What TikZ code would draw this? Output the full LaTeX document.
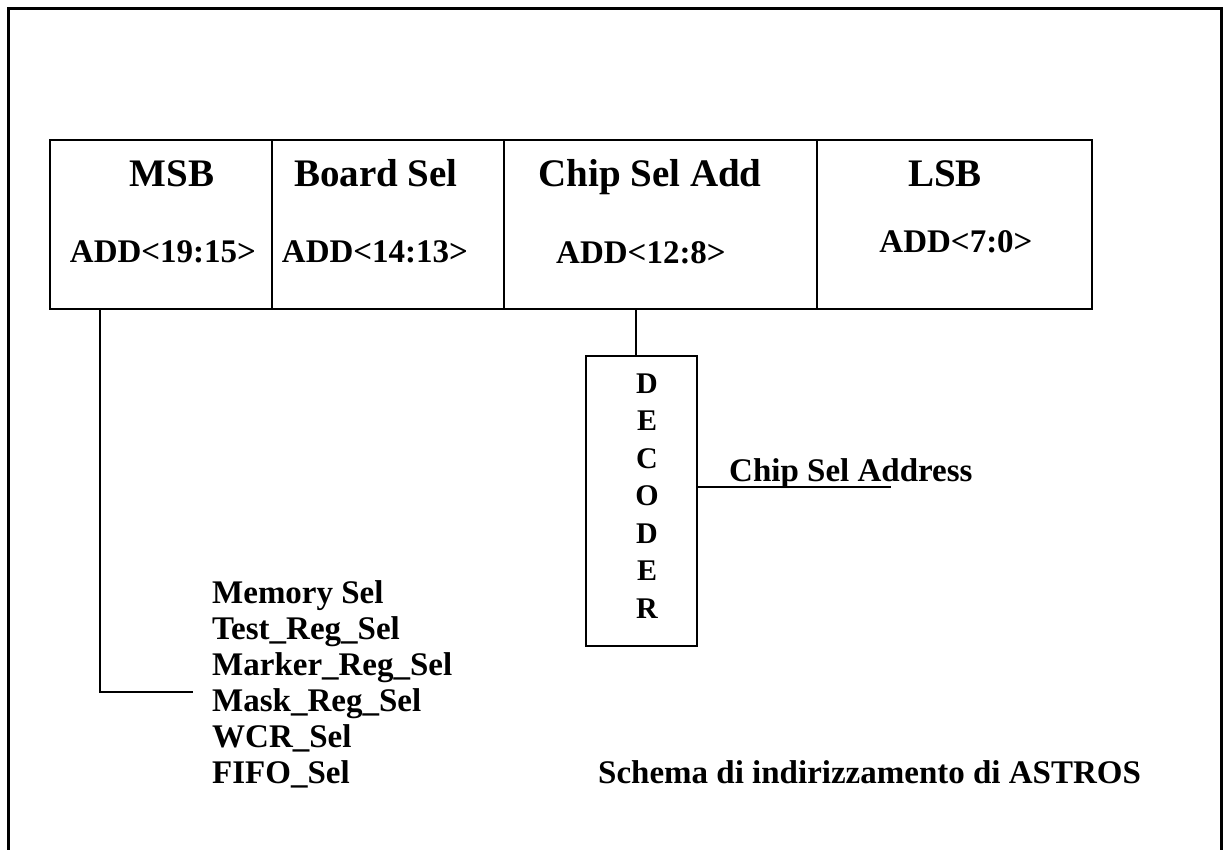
\documentclass[tikz,border=0pt]{standalone}
\usepackage{fontspec}
\setmainfont{Liberation Serif}
\usetikzlibrary{positioning,calc}

\begin{document}
\begin{tikzpicture}[x=1pt, y=-1pt,
    field/.style={draw, line width=1.6pt, minimum height=169pt, inner sep=0pt},
    head/.style={font=\fontsize{39}{40}\selectfont\bfseries, anchor=base, inner sep=0pt},
    bits/.style={font=\fontsize{33}{36}\selectfont\bfseries, anchor=base, inner sep=0pt},
    lbl/.style={font=\fontsize{33}{36}\selectfont\bfseries, inner sep=0pt},
    wire/.style={line width=1.6pt}]
  \useasboundingbox (0,0) rectangle (1225,850);
  % outer frame, open at the bottom
  \draw[line width=3pt] (8,850) -- (8,9) -- (1221,9) -- (1221,850);

  % address fields
  \node[field, minimum width=222pt] (msb) at (161,224.5) {};
  \node[field, minimum width=232pt] (board) at (388,224.5) {};
  \node[field, minimum width=313pt] (chip) at (660.5,224.5) {};
  \node[field, minimum width=275pt] (lsb) at (954.5,224.5) {};

  \node[head] (msbname) at (172,187) {MSB};
  \node[bits] (msbbits) at (163,262) {ADD<19:15>};
  \node[head] (boardname) at (376,187) {Board Sel};
  \node[bits] (boardbits) at (375,262) {ADD<14:13>};
  \node[head] (chipname) at (650,187) {Chip Sel Add};
  \node[bits] (chipbits) at (641,263) {ADD<12:8>};
  \node[head] (lsbname) at (945,187) {LSB};
  \node[bits] (lsbbits) at (956,253) {ADD<7:0>};

  % decoder
  \node[draw, line width=1.6pt, minimum width=111pt, minimum height=290pt, inner sep=0pt] (dec) at (641.5,501) {};
  \foreach \ch [count=\i] in {D,E,C,O,D,E,R}
    \node[bits, font=\fontsize{30}{36}\selectfont\bfseries] (dec\i) at (647,355.5+37.5*\i) {\ch};

  % connectors
  \coordinate (tapmsb) at (100,692);
  \coordinate (endmsb) at (193,692);
  \draw[wire] (msb.south -| tapmsb) -- (tapmsb) -- (endmsb);
  \coordinate (tapchip) at (636,0);
  \draw[wire] (chip.south -| tapchip) -- (dec.north -| tapchip);
  \coordinate (outchip) at (891,487);
  \draw[wire] (dec.east |- outchip) -- (outchip);
  \node[lbl, anchor=base west] (chipout) at (729,481) {Chip Sel Address};

  % select lines
  \foreach \txt [count=\i] in {Memory Sel, Test\_Reg\_Sel, Marker\_Reg\_Sel, Mask\_Reg\_Sel, WCR\_Sel, FIFO\_Sel}
    \node[lbl, anchor=base west] (sel\i) at (212,567+36*\i) {\txt};
  \node[lbl, anchor=base west] (caption) at (598,783) {Schema di indirizzamento di ASTROS};
\end{tikzpicture}
\end{document}
